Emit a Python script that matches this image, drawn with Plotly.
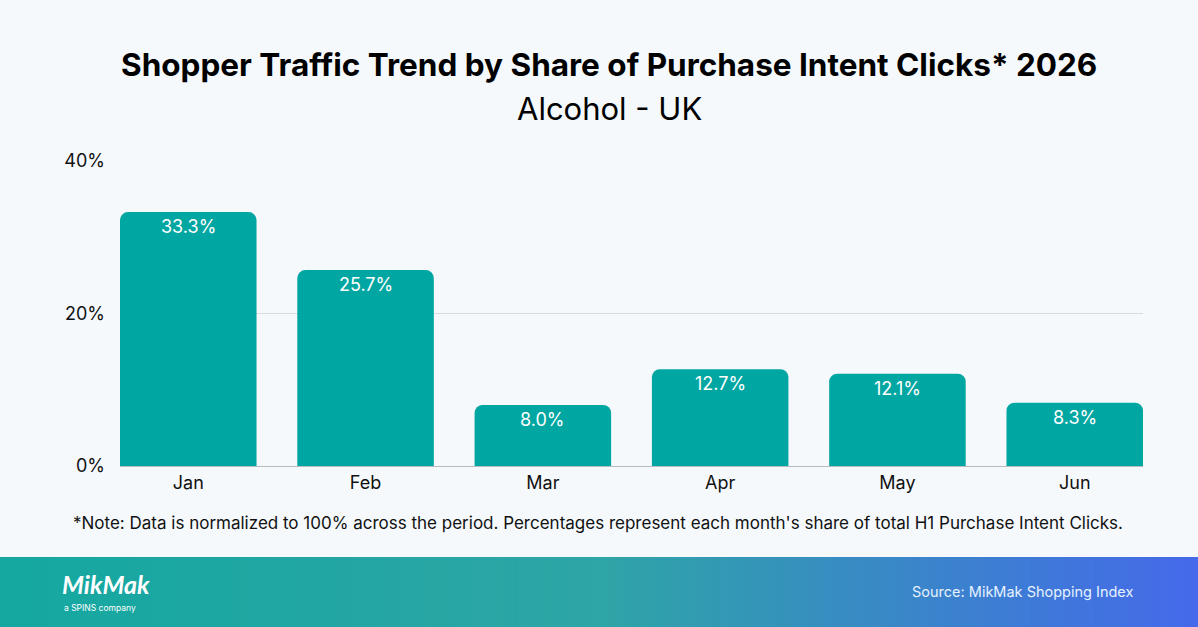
import plotly.graph_objects as go

months = ["Jan", "Feb", "Mar", "Apr", "May", "Jun"]
share = [33.3, 25.7, 8.0, 12.7, 12.1, 8.3]
y_ticks = [0, 20, 40]
y_tick_labels = ["0%", "20%", "40%"]

W, H = 1198, 627
L, R, T, B = 120, 55, 161, 161
PW, PH = W - L - R, H - T - B

def px_x(x):
    return (x - L) / PW

def px_y(y):
    return (H - B - y) / PH

BG = "#f5f9fc"
BAR = "#00a6a1"
GAP = 0.23

fig = go.Figure()
fig.add_trace(go.Bar(
    x=months, y=share,
    marker=dict(color=BAR, line=dict(width=0)),
    hoverinfo="skip",
))

# gradient footer band
def lerp(c1, c2, t):
    return tuple(int(round(a + (b - a) * t)) for a, b in zip(c1, c2))

stops = [(0.0, (20, 168, 160)), (0.5, (46, 165, 166)), (1.0, (69, 105, 234))]
def grad(t):
    for (t0, c0), (t1, c1) in zip(stops[:-1], stops[1:]):
        if t <= t1:
            return lerp(c0, c1, (t - t0) / (t1 - t0))
    return stops[-1][1]

N = 150
shapes = []
for i in range(N):
    x0 = W * i / N
    x1 = W * (i + 1) / N + 0.8
    c = grad((i + 0.5) / N)
    shapes.append(dict(type="rect", xref="paper", yref="paper",
                       x0=px_x(x0), x1=px_x(x1), y0=px_y(H + 2), y1=px_y(557),
                       fillcolor=f"rgb{c}", line=dict(width=0), layer="below"))

annotations = [
    dict(text=f"{v:.1f}%", x=m, y=v, xref="x", yref="y", showarrow=False,
         yanchor="top", yshift=-2,
         font=dict(family="Inter", size=18, color="white"))
    for m, v in zip(months, share)
]
annotations += [
    dict(text="<b>Shopper Traffic Trend by Share of Purchase Intent Clicks* 2026</b>",
         x=px_x(609), y=px_y(65), xref="paper", yref="paper", showarrow=False,
         font=dict(family="Inter", size=31.5, color="#000000"), xanchor="center", yanchor="middle"),
    dict(text="Alcohol - UK",
         x=px_x(609), y=px_y(109), xref="paper", yref="paper", showarrow=False,
         font=dict(family="Inter", size=31, color="#000000"), xanchor="center", yanchor="middle"),
    dict(text="*Note: Data is normalized to 100% across the period. Percentages represent each month's share of total H1 Purchase Intent Clicks.",
         x=px_x(598), y=px_y(523), xref="paper", yref="paper", showarrow=False,
         font=dict(family="Inter", size=17, color="#111111"), xanchor="center", yanchor="middle"),
    dict(text="Source: MikMak Shopping Index",
         x=px_x(1135), y=px_y(592), xref="paper", yref="paper", showarrow=False,
         font=dict(family="Inter", size=14.5, color="#e6f2ff"), xanchor="right", yanchor="middle"),
    dict(text="<b><i>MikMak</i></b>",
         x=px_x(60), y=px_y(584), xref="paper", yref="paper", showarrow=False,
         font=dict(family="Lato", size=25, color="white"), xanchor="left", yanchor="middle"),
    dict(text="a SPINS company",
         x=px_x(62), y=px_y(607.5), xref="paper", yref="paper", showarrow=False,
         font=dict(family="Inter", size=8.5, color="white"), xanchor="left", yanchor="middle"),
]

half = (1 - GAP) / 2
fig.update_layout(
    width=W, height=H,
    margin=dict(l=L, r=R, t=T, b=B, pad=0),
    paper_bgcolor=BG, plot_bgcolor=BG,
    showlegend=False,
    bargap=GAP,
    barcornerradius=8,
    shapes=shapes,
    annotations=annotations,
    font=dict(family="Inter", color="#111111"),
    xaxis=dict(range=[-half, len(months) - 1 + half],
               showgrid=False, showline=True, linecolor="#b8bcc0", linewidth=1,
               ticks="", tickfont=dict(family="Inter", size=18, color="#111111"),
               fixedrange=True),
    yaxis=dict(range=[0, 40], tickvals=y_ticks, ticktext=y_tick_labels,
               showgrid=True, gridcolor="#d8dcdf", gridwidth=1, zeroline=False,
               showline=False, ticks="", ticklabelstandoff=14,
               tickfont=dict(family="Inter", size=18, color="#111111"),
               fixedrange=True),
)

fig.write_html("out.html", config={"displayModeBar": False})
